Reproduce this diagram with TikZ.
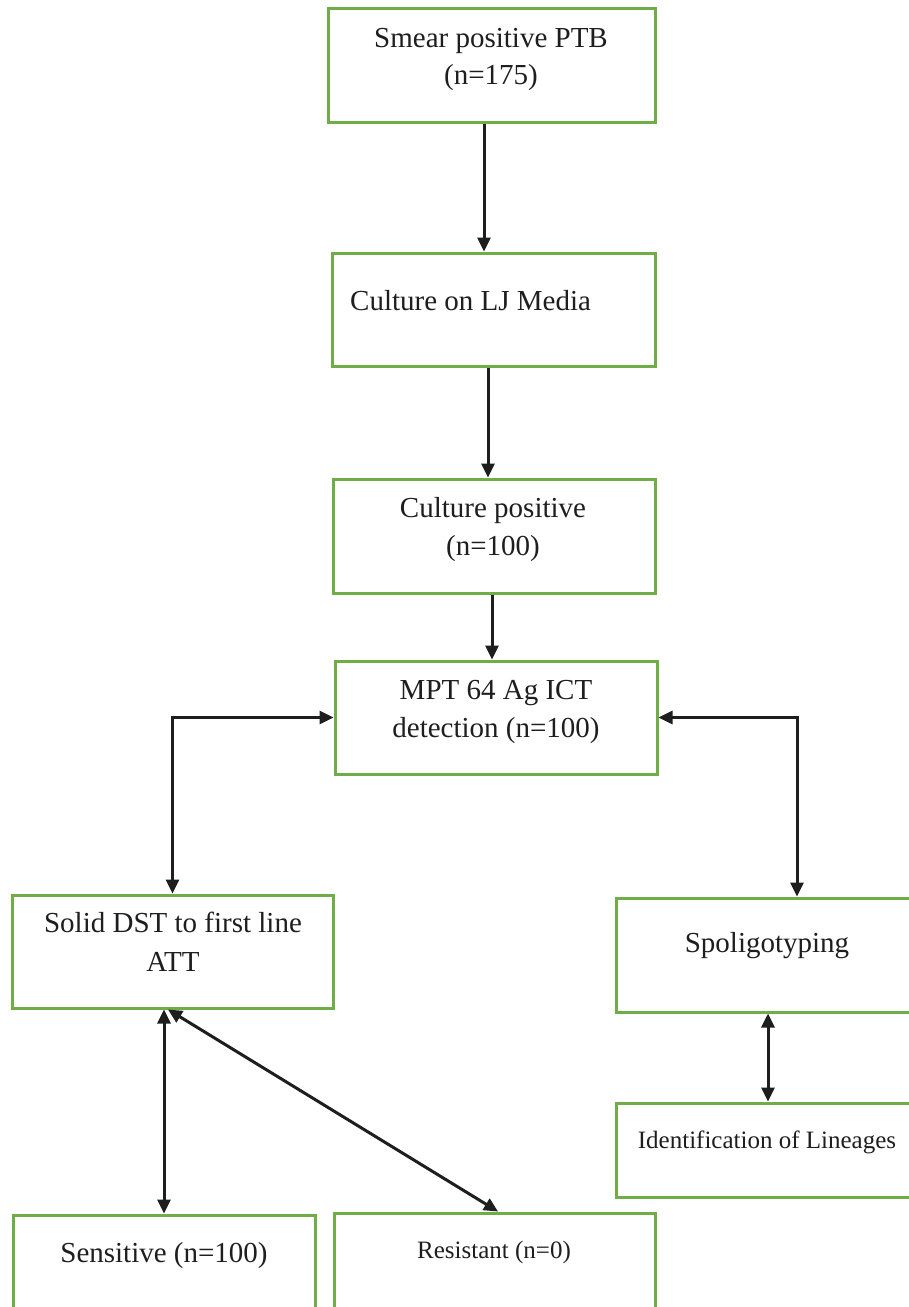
\documentclass[tikz,border=0pt]{standalone}
\usepackage{fontspec}
\setmainfont{Liberation Serif}
\usetikzlibrary{arrows.meta}
\definecolor{boxgreen}{RGB}{112,173,71}
\definecolor{ink}{RGB}{30,30,30}
\tikzset{
  box/.style={draw=boxgreen, line width=3pt, rectangle, inner sep=0pt, fill=none},
  lbl/.style={inner sep=0pt, anchor=base, text=ink, font=\fontsize{29pt}{35pt}\selectfont},
  lblsmall/.style={lbl, font=\fontsize{25pt}{30pt}\selectfont},
  arr/.style={draw=ink, line width=3pt, -{Triangle[length=14pt,width=13pt]}},
  arrtwo/.style={draw=ink, line width=3pt, {Triangle[length=14pt,width=13pt]}-{Triangle[length=14pt,width=13pt]}}
}
\begin{document}
\begin{tikzpicture}[x=1pt,y=-1pt]
\useasboundingbox (0,0) rectangle (909,1307);
\clip (0,0) rectangle (909,1307);
\fill[white] (0,0) rectangle (909,1307);

% boxes
\node[box, minimum width=327pt, minimum height=114pt] (b1) at (491.5,65) {};
\node[box, minimum width=323pt, minimum height=113pt] (b2) at (493.5,309.5) {};
\node[box, minimum width=322pt, minimum height=114pt] (b3) at (494,536) {};
\node[box, minimum width=322pt, minimum height=113pt] (b4) at (496,717.5) {};
\node[box, minimum width=321pt, minimum height=113pt] (dst) at (172.5,951.5) {};
\node[box, minimum width=324pt, minimum height=114pt] (spo) at (778,955) {};
\node[box, minimum width=324pt, minimum height=94pt] (lin) at (778,1150) {};
\node[box, minimum width=302pt, minimum height=110pt] (sens) at (164,1270) {};
\node[box, minimum width=321pt, minimum height=112pt] (res) at (494.5,1269) {};

% labels
\node[lbl] (t1a) at (491,47) {Smear positive PTB};
\node[lbl] (t1b) at (491,84) {(n=175)};
\node[lbl, anchor=base west] (t2) at (350,310) {Culture on LJ Media};
\node[lbl] (t3a) at (493,517) {Culture positive};
\node[lbl] (t3b) at (493,555) {(n=100)};
\node[lbl] (t4a) at (496,699) {MPT 64 Ag ICT};
\node[lbl] (t4b) at (496,737) {detection (n=100)};
\node[lbl] (t5a) at (173,932) {Solid DST to first line};
\node[lbl] (t5b) at (173,971) {ATT};
\node[lbl] (t6) at (767,952) {Spoligotyping};
\node[lblsmall] (t7) at (767,1148) {Identification of Lineages};
\node[lbl] (t8) at (164,1262) {Sensitive (n=100)};
\node[lblsmall] (t9) at (494,1258) {Resistant (n=0)};

% connectors
\draw[arr] ([xshift=-7.5pt]b1.south) -- ([xshift=-7.5pt]b1.south |- b2.north);
\draw[arr] ([xshift=-5.5pt]b2.south) -- ([xshift=-5.5pt]b2.south |- b3.north);
\draw[arr] ([xshift=-2pt]b3.south) -- ([xshift=-2pt]b3.south |- b4.north);
\draw[arrtwo] (b4.west) -| (dst.north);
\draw[arrtwo] (b4.east) -| ([xshift=19pt]spo.north);
\draw[arrtwo] ([xshift=-10pt]spo.south) -- ([xshift=-10pt]spo.south |- lin.north);
\draw[arrtwo] (sens.north |- dst.south) -- (sens.north);
\draw[arrtwo] ([xshift=-4.5pt]dst.south) -- ([xshift=3.5pt]res.north);
\end{tikzpicture}
\end{document}
